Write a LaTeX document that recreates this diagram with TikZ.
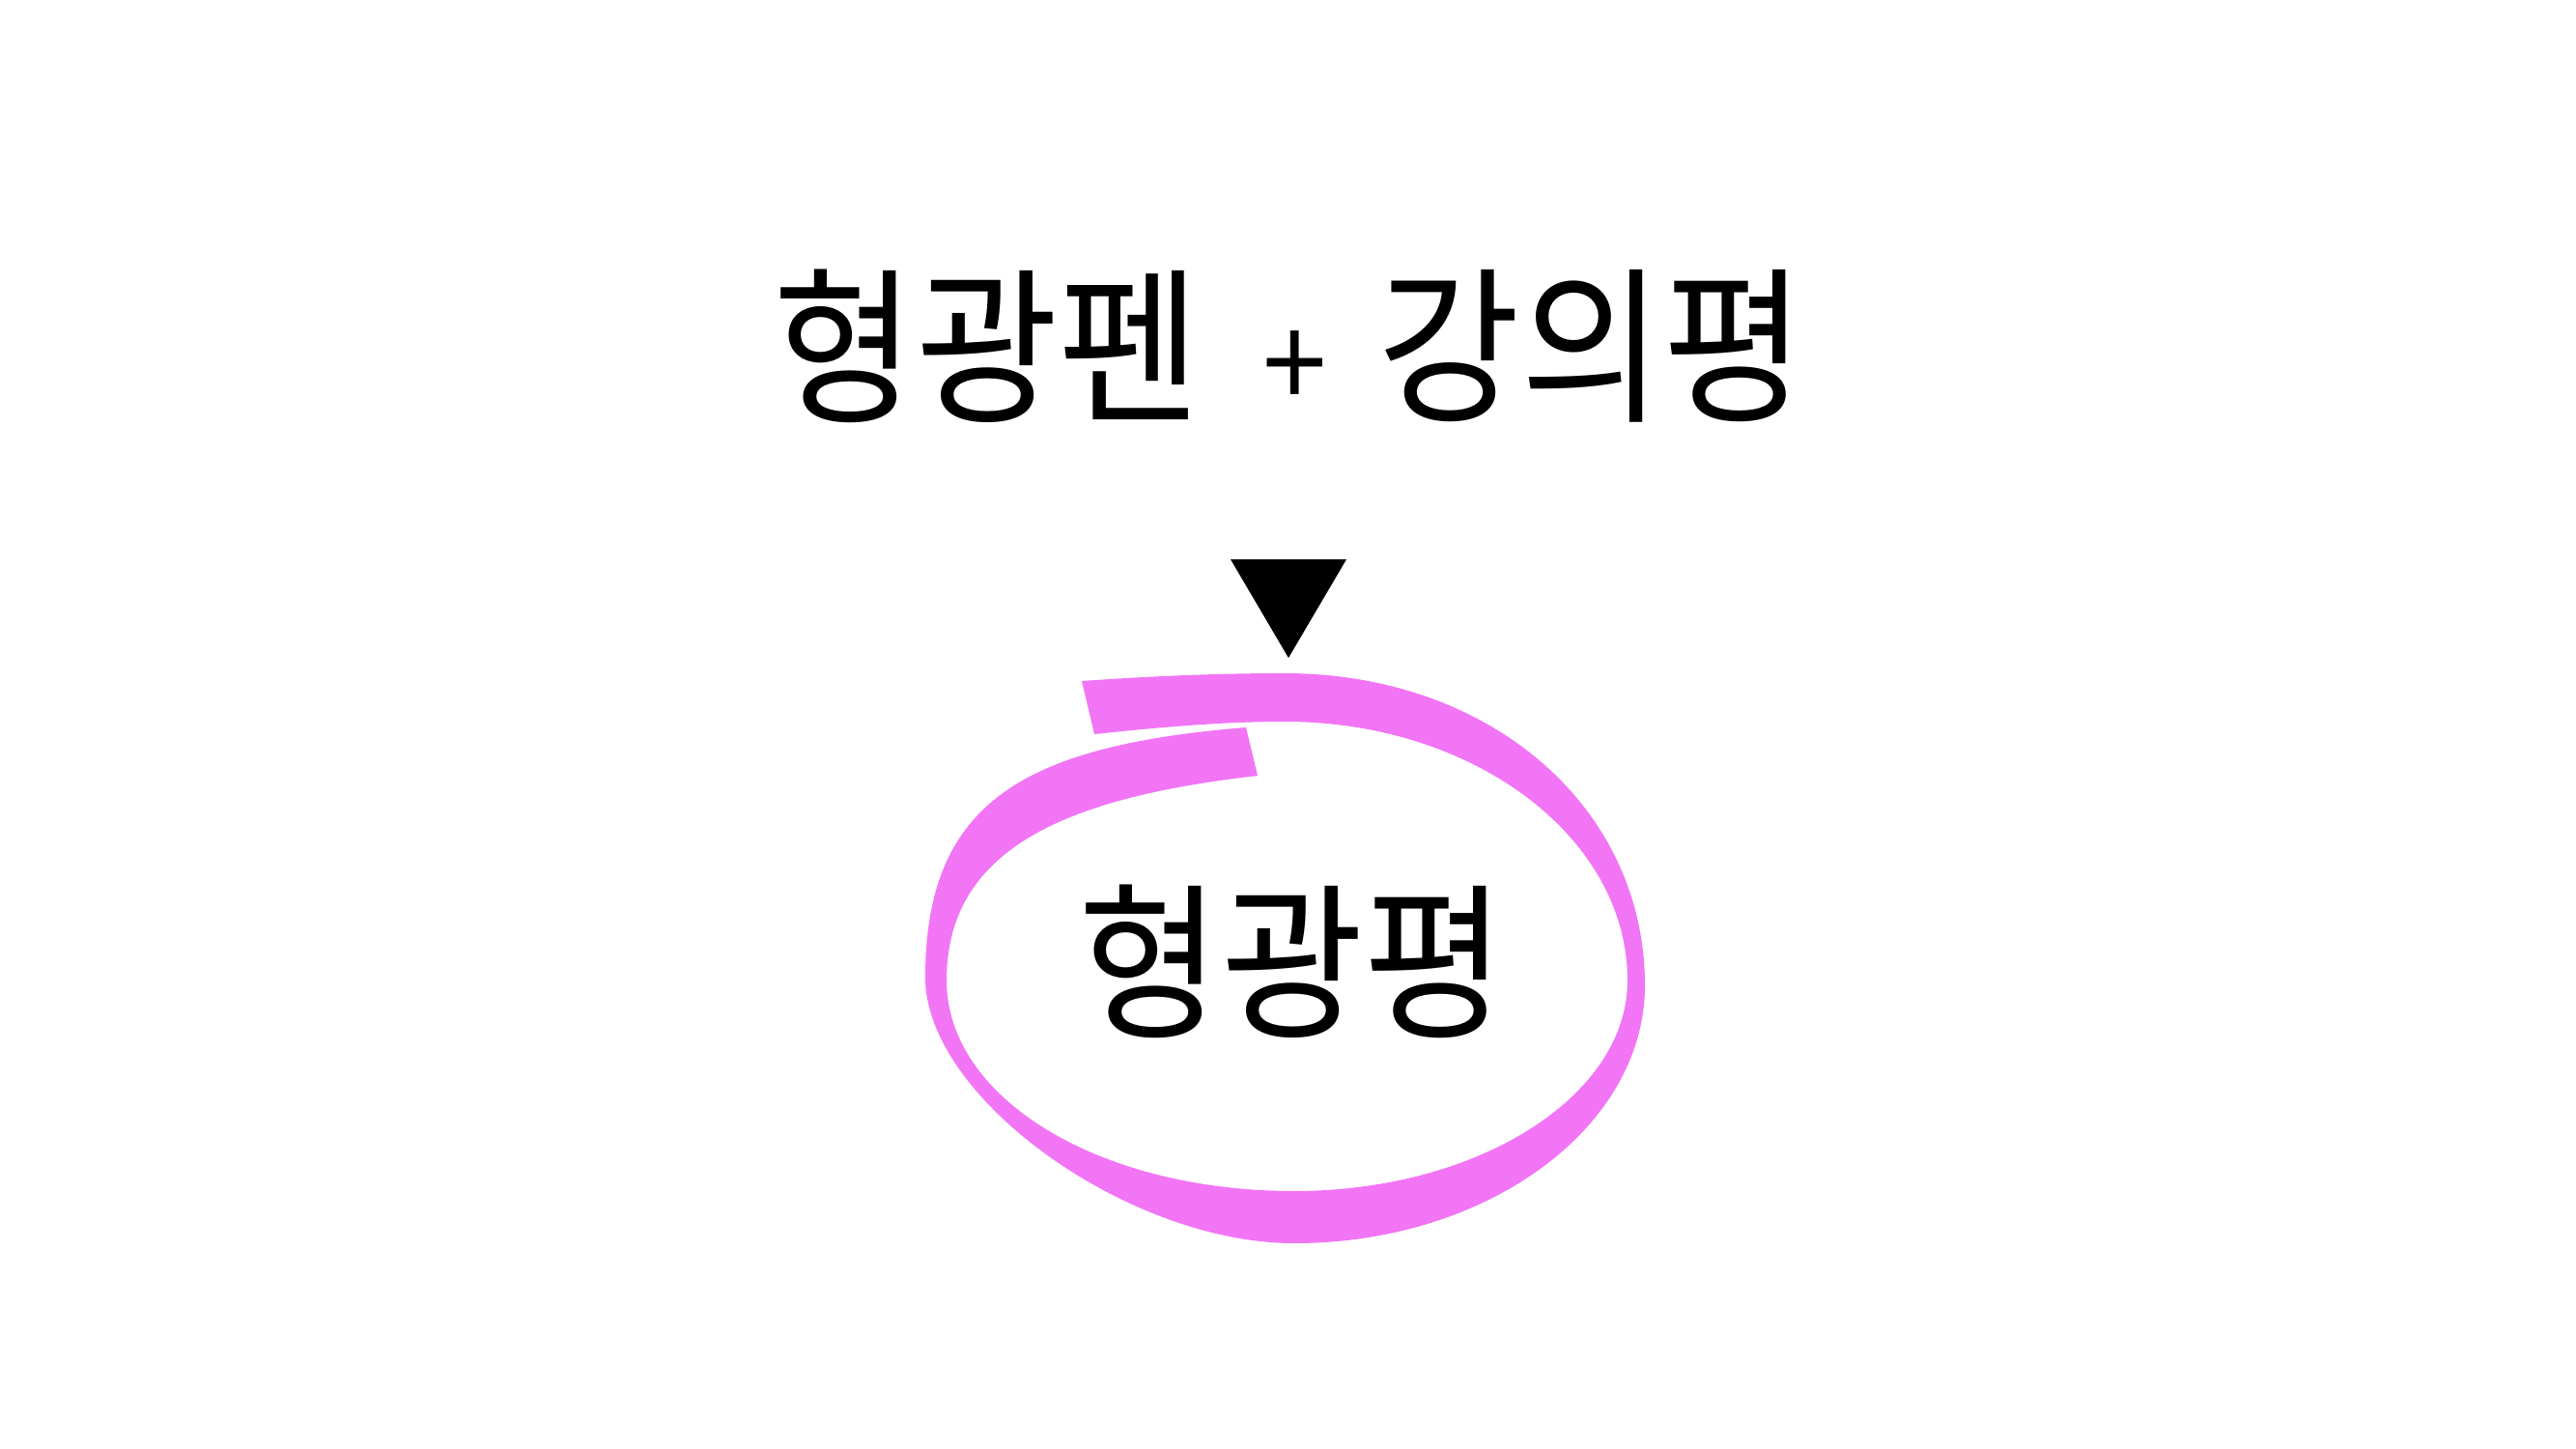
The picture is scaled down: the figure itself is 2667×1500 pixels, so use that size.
\documentclass[tikz,border=0pt]{standalone}
\usepackage{fontspec}
\newfontfamily\kr[FakeStretch=0.92]{Noto Sans CJK KR}
\definecolor{hlpink}{RGB}{242,117,246}
\tikzset{
  txt/.style={inner sep=0pt, font=\kr\fontsize{49.6pt}{52pt}\selectfont},
  plussign/.style={inner sep=0pt, font=\kr\fontsize{37pt}{38pt}\selectfont},
  hl/.style={fill=hlpink},
  marker/.style={fill=black}
}
\begin{document}
\begin{tikzpicture}[x=0.1mm,y=-0.1mm]
\useasboundingbox[fill=white] (0,0) rectangle (2667,1500);
% highlighter loop: outer edge, then inner edge back
\coordinate (stop) at (1120,705);
\coordinate (sbot) at (1133,760);
\coordinate (etop) at (1290,753);
\coordinate (ebot) at (1302,803);
\fill[hl] (stop) .. controls (1190,700) and (1260,697) .. (1330,697)
   .. controls (1543,697) and (1703,836) .. (1703,1020)
   .. controls (1703,1167) and (1540,1287) .. (1340,1287)
   .. controls (1168,1287) and (958,1136) .. (958,1012)
   .. controls (958,830) and (1060,772) .. (etop)
   -- (ebot)
   .. controls (1100,826) and (980,880) .. (980,1015)
   .. controls (980,1137) and (1138,1233) .. (1340,1233)
   .. controls (1530,1233) and (1685,1135) .. (1685,1015)
   .. controls (1685,867) and (1526,747) .. (1330,747)
   .. controls (1260,747) and (1190,754) .. (sbot)
   -- cycle;
% texts
\node[txt] (left) at (1022,358) {형광펜};
\node[plussign] (plus) at (1341,383) {+};
\node[txt] (right) at (1648,358) {강의평};
\node[txt] (res) at (1338,995) {형광평};
% down marker
\coordinate (tl) at (1274,579);
\coordinate (tr) at (1394,579);
\coordinate (tip) at (1334,681);
\fill[marker] (tl) -- (tr) -- (tip) -- cycle;
\end{tikzpicture}
\end{document}
